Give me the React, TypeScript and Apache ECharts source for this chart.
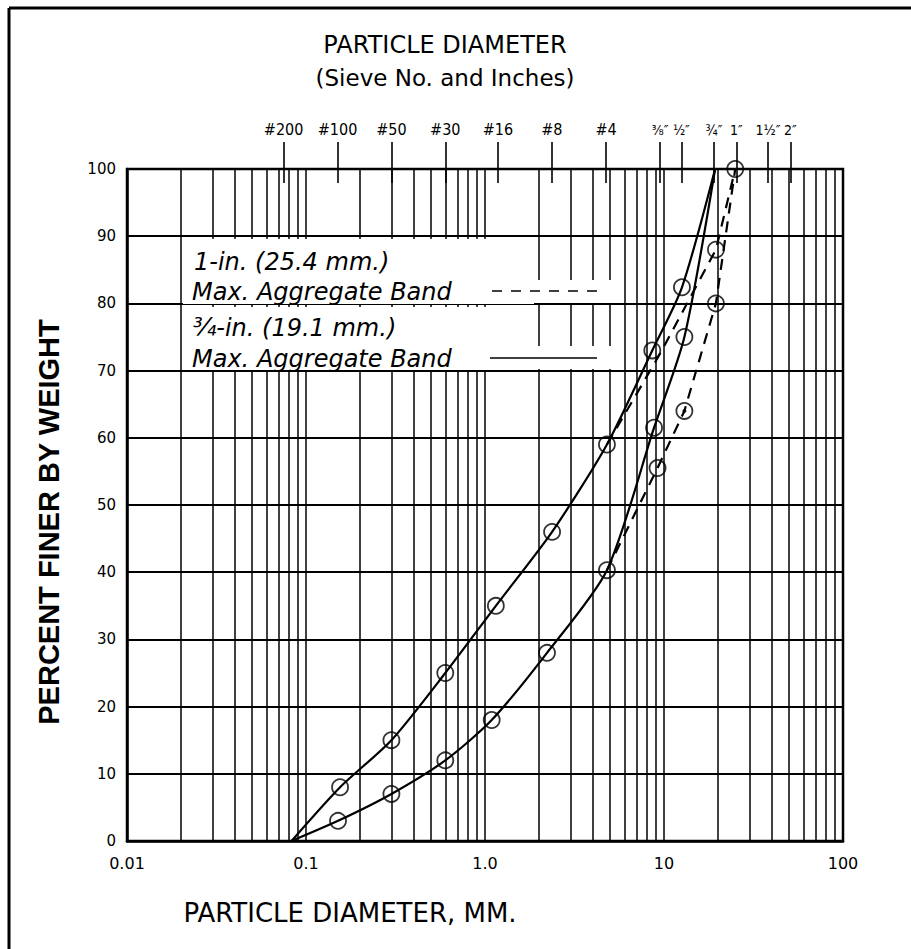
import React, { useEffect, useRef } from 'react';
import * as echarts from 'echarts';

// ---- data ----
const xTickLabels = ['0.01', '0.1', '1.0', '10', '100'];
const sieveSizes = [0.075, 0.15, 0.3, 0.6, 1.18, 2.36, 4.75, 9.5, 12.5, 19, 25.4, 38.1, 50.8];
const sieveLabels = ['#200', '#100', '#50', '#30', '#16', '#8', '#4', '⅜″', '½″', '¾″', '1″', '1½″', '2″'];

// 3/4-in. max aggregate band (solid)
const solidUpperX = [0.083, 0.155, 0.3, 0.6, 1.15, 2.37, 4.8, 8.6, 12.6, 19.3];
const solidUpperY = [0, 8, 15, 25, 35, 46, 59, 73, 82.4, 100];
const solidLowerX = [0.083, 0.151, 0.3, 0.6, 1.09, 2.22, 4.8, 8.8, 13.0, 19.3];
const solidLowerY = [0, 3, 7, 12, 18, 28, 40.3, 61.5, 75, 100];

// 1-in. max aggregate band (dashed)
const dashedUpperX = [4.8, 9.5, 19.5, 25];
const dashedUpperY = [59, 72.5, 88, 100];
const dashedLowerX = [4.8, 9.2, 13.0, 19.5, 25];
const dashedLowerY = [40.3, 55.5, 64, 80, 100];

// circled test points
const circleX = [0.155, 0.3, 0.6, 1.15, 2.37, 4.8, 8.6, 12.6, 0.151, 0.3, 0.6, 1.09, 2.22, 4.8, 8.8, 13.0, 9.2, 13.0, 19.5, 19.5, 25];
const circleY = [8, 15, 25, 35, 46, 59, 73, 82.4, 3, 7, 12, 18, 28, 40.3, 61.5, 75, 55.5, 64, 80, 88, 100];
const dotX = [13.0];
const dotY = [64];

// log grid decades (axis structure)
const decades = [0.01, 0.1, 1, 10];
const multipliers = [1, 2, 3, 4, 5, 6, 7, 8, 9];

const pairs = (xs: number[], ys: number[]) => xs.map((x, i) => [x, ys[i]]);

const NUM_FONT = 'DejaVu Sans';

export default function App() {
  const ref = useRef<HTMLDivElement>(null);
  useEffect(() => {
    if (!ref.current) return;
    const chart = echarts.init(ref.current, null, { renderer: 'svg' });
    const gridValues: number[] = [];
    decades.forEach((d) => multipliers.forEach((m) => gridValues.push(m * d)));
    gridValues.push(100);

    const sieveFormatter = (v: number) => {
      let best = 0;
      let bd = Infinity;
      sieveSizes.forEach((s, i) => {
        const d = Math.abs(Math.log10(s) - Math.log10(v));
        if (d < bd) { bd = d; best = i; }
      });
      const lab = sieveLabels[best];
      return lab.startsWith('#') ? `{a|${lab}}` : `{b|${lab}}`;
    };

    const option: any = {
      animation: false,
      backgroundColor: '#fff',
      grid: { left: 127, right: 68, top: 169, bottom: 108, show: true, borderColor: '#000', borderWidth: 2.5, backgroundColor: 'transparent' },
      xAxis: [
        {
          type: 'log', logBase: 10, min: 0.01, max: 100, position: 'bottom',
          axisLine: { show: true, lineStyle: { color: '#000', width: 2.5 } },
          axisTick: { show: false },
          splitLine: { show: false },
          axisLabel: {
            color: '#000', fontSize: 16, fontFamily: NUM_FONT, margin: 14,
            formatter: (v: number) => xTickLabels[Math.round(Math.log10(v)) + 2],
          },
        },
        {
          type: 'log', logBase: 10, min: 0.01, max: 100, position: 'top',
          axisLine: { show: false },
          axisTick: { show: true, length: 27, customValues: sieveSizes, lineStyle: { color: '#000', width: 1.6 } },
          splitLine: { show: false },
          axisLabel: {
            show: true, customValues: sieveSizes, color: '#000',
            margin: 32, formatter: sieveFormatter,
            rich: {
              a: { fontSize: 16, fontFamily: 'DejaVu Sans Condensed, DejaVu Sans', color: '#000' },
              b: { fontSize: 14, fontFamily: 'DejaVu Sans Condensed, DejaVu Sans', color: '#000' },
            },
          },
        },
        {
          type: 'log', logBase: 10, min: 0.01, max: 100, position: 'top',
          axisLine: { show: false },
          axisTick: { show: true, inside: true, length: 14, customValues: sieveSizes, lineStyle: { color: '#000', width: 1.6 } },
          splitLine: { show: false },
          axisLabel: { show: false },
        },
      ],
      yAxis: {
        type: 'value', min: 0, max: 100, interval: 10,
        axisLine: { show: true, lineStyle: { color: '#000', width: 2.5 } },
        axisTick: { show: false },
        splitLine: { show: true, lineStyle: { color: '#000', width: 2 } },
        axisLabel: { color: '#000', fontSize: 15, fontFamily: NUM_FONT, margin: 11 },
      },
      series: [
        {
          type: 'line', xAxisIndex: 0, data: [[0.01, 0]], showSymbol: false, lineStyle: { width: 0 },
          silent: true,
          markLine: {
            silent: true, symbol: ['none', 'none'], label: { show: false },
            lineStyle: { color: '#000', width: 1.5, type: 'solid' },
            emphasis: { disabled: true },
            data: gridValues.map((v) => ({ xAxis: v })),
          },
        },
        {
          name: 'solidUpper', type: 'line', xAxisIndex: 0, data: pairs(solidUpperX, solidUpperY),
          showSymbol: false, smooth: 0.25, lineStyle: { color: '#000', width: 2.2 },
        },
        {
          name: 'solidLower', type: 'line', xAxisIndex: 0, data: pairs(solidLowerX, solidLowerY),
          showSymbol: false, smooth: 0.25, lineStyle: { color: '#000', width: 2.2 },
        },
        {
          name: 'dashedUpper', type: 'line', xAxisIndex: 0, data: pairs(dashedUpperX, dashedUpperY),
          showSymbol: false, lineStyle: { color: '#000', width: 2.2, type: [11, 8] },
        },
        {
          name: 'dashedLower', type: 'line', xAxisIndex: 0, data: pairs(dashedLowerX, dashedLowerY),
          showSymbol: false, lineStyle: { color: '#000', width: 2.2, type: [11, 8] },
        },
        {
          name: 'points', type: 'scatter', xAxisIndex: 0, data: pairs(circleX, circleY),
          symbol: 'circle', symbolSize: 16,
          itemStyle: { color: 'rgba(0,0,0,0)', borderColor: '#000', borderWidth: 1.8 },
        },
        {
          name: 'dots', type: 'scatter', xAxisIndex: 0, data: pairs(dotX, dotY),
          symbol: 'circle', symbolSize: 4, itemStyle: { color: '#000' },
        },
      ],
      graphic: [
        // page frame (top and left edges only)
        { type: 'rect', z: 200, shape: { x: 903, y: 10, width: 8, height: 939 }, style: { fill: '#fff' } },
        { type: 'line', z: 201, shape: { x1: 9, y1: 8, x2: 911, y2: 8 }, style: { stroke: '#000', lineWidth: 3 } },
        { type: 'line', z: 201, shape: { x1: 9, y1: 8, x2: 9, y2: 949 }, style: { stroke: '#000', lineWidth: 3 } },
        // titles
        { type: 'text', z: 100, x: 445, y: 45, style: { text: 'PARTICLE DIAMETER', font: `24px ${NUM_FONT}`, fill: '#000', align: 'center', verticalAlign: 'middle' } },
        { type: 'text', z: 100, x: 445, y: 78, style: { text: '(Sieve No. and Inches)', font: `23px ${NUM_FONT}`, fill: '#000', align: 'center', verticalAlign: 'middle' } },
        { type: 'text', z: 100, x: 350, y: 913, style: { text: 'PARTICLE DIAMETER, MM.', font: `26px ${NUM_FONT}`, fill: '#000', align: 'center', verticalAlign: 'middle' } },
        { type: 'text', z: 100, x: 49, y: 522, rotation: Math.PI / 2, style: { text: 'PERCENT FINER BY WEIGHT', font: 'bold 29px "Liberation Sans", Arial, sans-serif', fill: '#000', align: 'center', verticalAlign: 'middle' } },
        // legend box
        { type: 'rect', z: 90, shape: { x: 183, y: 239, width: 351, height: 65 }, style: { fill: '#fff' } },
        { type: 'rect', z: 90, shape: { x: 183, y: 307, width: 351, height: 63 }, style: { fill: '#fff' } },
        { type: 'rect', z: 90, shape: { x: 534, y: 280, width: 78, height: 23 }, style: { fill: '#fff' } },
        { type: 'rect', z: 90, shape: { x: 534, y: 346, width: 78, height: 23 }, style: { fill: '#fff' } },
        { type: 'text', z: 100, x: 194, y: 262, style: { text: '1-in. (25.4 mm.)', font: `italic 24px ${NUM_FONT}`, fill: '#000', align: 'left', verticalAlign: 'middle' } },
        { type: 'text', z: 100, x: 192, y: 292, style: { text: 'Max. Aggregate Band', font: `italic 24px ${NUM_FONT}`, fill: '#000', align: 'left', verticalAlign: 'middle' } },
        { type: 'text', z: 100, x: 193, y: 328, style: { text: '¾-in. (19.1 mm.)', font: `italic 24px ${NUM_FONT}`, fill: '#000', align: 'left', verticalAlign: 'middle' } },
        { type: 'text', z: 100, x: 192, y: 359, style: { text: 'Max. Aggregate Band', font: `italic 24px ${NUM_FONT}`, fill: '#000', align: 'left', verticalAlign: 'middle' } },
        { type: 'line', z: 100, shape: { x1: 492, y1: 291, x2: 598, y2: 291 }, style: { stroke: '#000', lineWidth: 1.6, lineDash: [10, 9] } },
        { type: 'line', z: 100, shape: { x1: 490, y1: 358, x2: 597, y2: 358 }, style: { stroke: '#000', lineWidth: 1.6 } },
      ],
    };
    chart.setOption(option);
    return () => chart.dispose();
  }, []);
  return <div ref={ref} style={{ position: 'absolute', left: 0, top: 0, width: 911, height: 949, background: '#fff', overflow: 'hidden' }} />;
}
